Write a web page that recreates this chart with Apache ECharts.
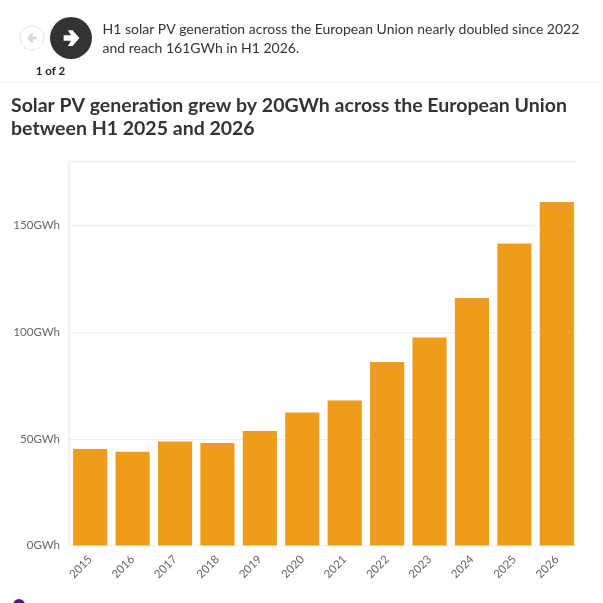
<!DOCTYPE html>
<html><head><meta charset="utf-8">
<style>html,body{margin:0;padding:0;background:#fff}#c{width:603px;height:603px}</style>
<script src="https://cdn.jsdelivr.net/npm/echarts@6/dist/echarts.min.js"></script>
</head><body><div id="c"></div>
<script>
const years=['2015','2016','2017','2018','2019','2020','2021','2022','2023','2024','2025','2026'];
const generation=[45.2,44,48.8,48,53.7,62.3,68,86,97.5,116,141.6,161];
const yTicks=[0,50,100,150];
const captionLines=['H1 solar PV generation across the European Union nearly doubled since 2022','and reach 161GWh in H1 2026.'];
const titleLines=['Solar PV generation grew by 20GWh across the European Union','between H1 2025 and 2026'];
const pager='1 of 2';
const FONT='Lato';
const chart=echarts.init(document.getElementById('c'),null,{renderer:'canvas'});
function arrow(cx,cy,s,color,dir){
  return {type:'polygon',shape:{points:[[-7,-2.6],[0,-2.6],[-3,-7.5],[1.5,-7.5],[8,0],[1.5,7.5],[-3,7.5],[0,2.6],[-7,2.6]].map(p=>[cx+dir*p[0]*s,cy+p[1]*s])},style:{fill:color}};
}
chart.setOption({
  animation:false,
  backgroundColor:'#fff',
  grid:{left:69,right:25,top:161.5,bottom:57.5,containLabel:false},
  xAxis:{type:'category',data:years,
    axisLine:{show:false},
    axisTick:{show:false},
    axisLabel:{rotate:45,color:'#666',fontFamily:FONT,fontSize:11.5,margin:12,interval:0}},
  yAxis:{type:'value',min:0,max:180,interval:50,
    axisLine:{show:true,lineStyle:{color:'#eeeeee',width:1.5}},
    axisTick:{show:false},
    splitLine:{lineStyle:{color:'#eeeeee',width:1}},
    axisLabel:{color:'#666',fontFamily:FONT,fontSize:11.5,margin:9,
      formatter:v=>yTicks.includes(v)?v+'GWh':''}},
  series:[{type:'bar',data:generation,barCategoryGap:'19.5%',itemStyle:{color:'#f09c1b'}}],
  graphic:[
    {type:'circle',shape:{cx:32,cy:38,r:12},style:{fill:'#fff',stroke:'#e6e6e6',lineWidth:1}},
    arrow(32,38,0.62,'#d9d9d9',-1),
    {type:'circle',shape:{cx:71,cy:38,r:21},style:{fill:'#333333'}},
    arrow(71,38,1.05,'#ffffff',1),
    {type:'text',x:50.5,y:71,style:{text:pager,fontFamily:FONT,fontWeight:700,fontSize:11.5,fill:'#222',align:'center',verticalAlign:'middle'}},
    {type:'text',x:102.5,y:29.5,style:{text:captionLines[0],fontFamily:FONT,fontSize:14,fill:'#333',verticalAlign:'middle'}},
    {type:'text',x:102.5,y:48,style:{text:captionLines[1],fontFamily:FONT,fontSize:14,fill:'#333',verticalAlign:'middle'}},
    {type:'rect',shape:{x:2,y:81.5,width:598,height:1},style:{fill:'#f0f0f0'}},
    {type:'text',x:11,y:105.5,style:{text:titleLines[0],fontFamily:FONT,fontWeight:700,fontSize:19.5,fill:'#333',verticalAlign:'middle'}},
    {type:'text',x:11,y:129,style:{text:titleLines[1],fontFamily:FONT,fontWeight:700,fontSize:19.5,fill:'#333',verticalAlign:'middle'}},
    {type:'circle',shape:{cx:19,cy:605,r:6},style:{fill:'#4b1a8c'}}
  ]
});
</script></body></html>
